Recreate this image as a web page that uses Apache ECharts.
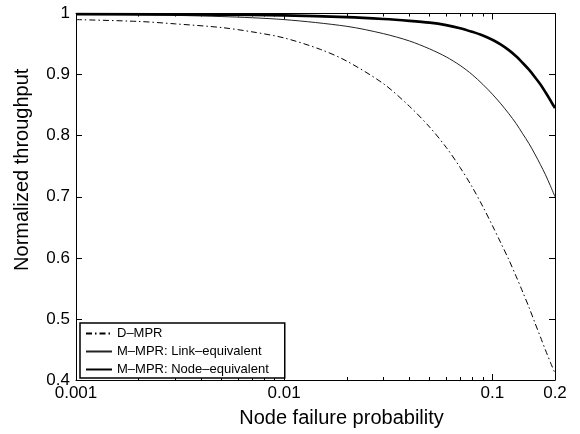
<!DOCTYPE html>
<html>
<head>
<meta charset="utf-8">
<script src="https://cdn.jsdelivr.net/npm/echarts@6/dist/echarts.min.js"></script>
<style>
  html, body { margin: 0; padding: 0; background: #fff; }
  #chart { width: 580px; height: 434px; }
</style>
</head>
<body>
<div id="chart"></div>
<script>
const dmprP = [0.001, 0.002, 0.003, 0.005, 0.007, 0.01, 0.015, 0.02, 0.03, 0.04, 0.05, 0.06, 0.07, 0.08, 0.09, 0.1, 0.11, 0.12, 0.13, 0.14, 0.15, 0.16, 0.17, 0.18, 0.19, 0.2];
const dmprVals = [0.990, 0.987, 0.983, 0.977, 0.970, 0.960, 0.941, 0.922, 0.885, 0.848, 0.814, 0.781, 0.748, 0.716, 0.684, 0.653, 0.624, 0.597, 0.570, 0.544, 0.519, 0.494, 0.471, 0.449, 0.429, 0.411];

const linkP = [0.001, 0.002, 0.005, 0.01, 0.02, 0.03, 0.04, 0.05, 0.06, 0.07, 0.08, 0.09, 0.1, 0.11, 0.12, 0.13, 0.14, 0.15, 0.16, 0.17, 0.18, 0.19, 0.2];
const linkVals = [0.999, 0.998, 0.995, 0.990, 0.979, 0.967, 0.955, 0.942, 0.929, 0.915, 0.900, 0.884, 0.868, 0.852, 0.836, 0.820, 0.803, 0.787, 0.770, 0.753, 0.736, 0.718, 0.700];

const nodeP = [0.001, 0.005, 0.01, 0.02, 0.03, 0.04, 0.05, 0.06, 0.07, 0.08, 0.09, 0.1, 0.11, 0.12, 0.13, 0.14, 0.15, 0.16, 0.17, 0.18, 0.19, 0.2];
const nodeVals = [0.999, 0.998, 0.997, 0.994, 0.991, 0.988, 0.985, 0.981, 0.976, 0.970, 0.964, 0.957, 0.949, 0.940, 0.930, 0.919, 0.908, 0.896, 0.884, 0.871, 0.858, 0.845];

const seriesNames = ["D–MPR", "M–MPR: Link–equivalent", "M–MPR: Node–equivalent"];

const xMajor = [0.001, 0.01, 0.1];
const xLabels = [0.001, 0.01, 0.1, 0.2];
const xMinor = [];
[0.001, 0.01, 0.1].forEach((base) => {
  for (let k = 2; k <= 9; k++) {
    const v = +(base * k).toPrecision(3);
    if (v <= 0.2) xMinor.push(v);
  }
});

const yMin = 0.4, yMax = 1, yStep = 0.1;

const font = "Liberation Sans, Arial, Helvetica, sans-serif";
const zip = (xs, ys) => xs.map((x, i) => [x, ys[i]]);

// one x axis per tick size, bottom and top
const makeX = (position, ticks, len, withLabels) => ({
  type: "log",
  logBase: 10,
  min: 0.001,
  max: 0.2,
  position,
  gridIndex: 0,
  axisLine: { show: withLabels, lineStyle: { color: "#000", width: 1 } },
  axisTick: { show: true, inside: true, length: len, customValues: ticks, lineStyle: { color: "#000", width: 1 } },
  axisLabel: withLabels
    ? { show: true, customValues: xLabels, color: "#000", fontFamily: font, fontSize: 17, margin: 5, formatter: (v) => String(+(+v).toPrecision(3)) }
    : { show: false },
  splitLine: { show: false },
  minorTick: { show: false },
});

const xAxes = [
  Object.assign(makeX("bottom", xMajor, 6, true), {
    name: "Node failure probability",
    nameLocation: "middle",
    nameGap: 28,
    // the title sits a bit right of the axis centre in the original
    nameTextStyle: { color: "#000", fontFamily: font, fontSize: 20, padding: [0, 0, 0, 52] },
  }),
  makeX("bottom", xMinor, 3, false),
  makeX("top", xMajor, 6, true),
  makeX("top", xMinor, 3, false),
];
xAxes[2].axisLabel = { show: false };

const makeY = (position, withLabels) => ({
  type: "value",
  min: yMin,
  max: yMax,
  interval: yStep,
  position,
  axisLine: { show: true, lineStyle: { color: "#000", width: 1 } },
  axisTick: { show: true, inside: true, length: 6, lineStyle: { color: "#000", width: 1 } },
  axisLabel: withLabels
    ? { show: true, color: "#000", fontFamily: font, fontSize: 17, margin: 6, formatter: (v) => (Math.abs(v - 1) < 1e-9 ? "1" : v.toFixed(1)) }
    : { show: false },
  splitLine: { show: false },
});

const yAxes = [
  Object.assign(makeY("left", true), {
    name: "Normalized throughput",
    nameLocation: "middle",
    nameGap: 44,
    // and a bit above the centre here
    nameTextStyle: { color: "#000", fontFamily: font, fontSize: 20, padding: [0, 0, 0, 54] },
  }),
  makeY("right", false),
];

const lineStyles = [
  { color: "#000", width: 1, type: [6, 3, 1.5, 3] },
  { color: "#222", width: 1 },
  { color: "#000", width: 2.6 },
];
const seriesData = [zip(dmprP, dmprVals), zip(linkP, linkVals), zip(nodeP, nodeVals)];

const chart = echarts.init(document.getElementById("chart"), null, { renderer: "canvas" });

chart.setOption({
  animation: false,
  backgroundColor: "#fff",
  grid: { left: 76, right: 25, top: 13.5, bottom: 54 },
  xAxis: xAxes,
  yAxis: yAxes,
  legend: {
    orient: "vertical",
    left: 80,
    top: 323,
    data: seriesNames,
    backgroundColor: "#fff",
    borderColor: "#000",
    borderWidth: 1.5,
    padding: [4, 16, 2, 5],
    itemWidth: 26,
    itemHeight: 12,
    itemGap: 5,
    itemStyle: { opacity: 0 },
    textStyle: { color: "#000", fontFamily: font, fontSize: 13 },
  },
  series: seriesNames.map((name, i) => ({
    name,
    type: "line",
    xAxisIndex: 0,
    yAxisIndex: 0,
    data: seriesData[i],
    smooth: 0.3,
    showSymbol: false,
    symbol: "none",
    lineStyle: lineStyles[i],
    itemStyle: { color: lineStyles[i].color },
    z: 2 + i,
  })),
});
</script>
</body>
</html>
